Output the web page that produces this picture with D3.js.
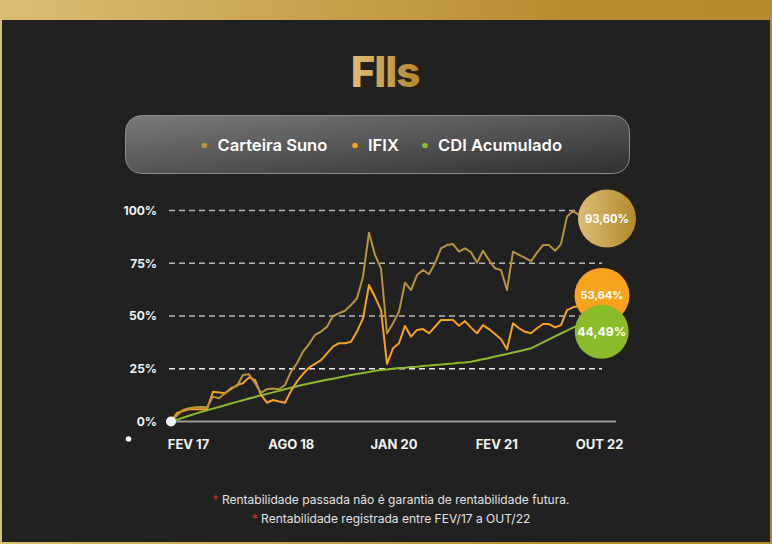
<!DOCTYPE html>
<html><head><meta charset="utf-8">
<script src="https://cdn.jsdelivr.net/npm/d3@7"></script>
<style>
html,body{margin:0;padding:0;background:#212121;}
svg{display:block;font-family:Inter,"Noto Sans",sans-serif;}
</style></head>
<body>
<svg id="c" width="772" height="544"></svg>
<script>
// ---- data ----
const xLabels = ["FEV 17", "AGO 18", "JAN 20", "FEV 21", "OUT 22"];
const yTicks = [0, 25, 50, 75, 100];
const seriesNames = ["Carteira Suno", "IFIX", "CDI Acumulado"];
const seriesColors = ["#b8933c", "#f7a21b", "#8bbb28"];
// monthly accumulated return (%), FEV/17 .. OUT/22 (69 months)
const suno = [0,2.8,5.5,6.3,6.8,6.9,6.7,11.8,11.0,13.4,15.9,16.8,22.0,22.4,18.1,13.6,15.3,15.6,15.3,17.3,
  23.6,27.6,33.1,36.7,41.0,42.6,44.9,50.0,51.3,52.5,55.2,58.4,68.6,89.5,78.9,72.6,41.8,46.5,52.0,65.8,
  62.3,69.4,71.8,69.8,75.0,82.1,83.6,84.1,80.5,82.1,80.2,75.3,80.9,76.5,72.6,71.8,62.3,80.5,79.0,77.5,
  76.0,80.0,83.6,83.6,80.9,84.1,97.1,99.8,97.9];
const ifix = [0,4.0,5.0,5.8,5.8,5.8,5.9,14.1,13.8,13.4,15.3,17.3,18.1,20.9,19.7,12.6,8.9,10.2,9.5,8.9,
  14.5,19.0,22.5,25.5,27.3,29.1,32.3,35.5,37.1,37.1,37.8,42.6,48.9,64.7,59.1,52.8,27.3,34.7,37.1,45.3,
  40.2,43.4,43.8,41.8,44.9,48.1,48.1,48.1,45.4,47.6,44.5,41.8,45.7,43.8,41.5,39.0,34.2,46.5,44.2,42.5,
  41.8,44.2,46.2,46.2,44.6,45.7,52.8,54.1,54.7];
const cdi = [0,0.9,1.8,2.7,3.6,4.5,5.3,6.1,6.9,7.7,8.5,9.3,10.1,10.9,11.6,12.4,13.1,13.8,14.6,15.3,
  16.0,16.7,17.4,18.0,18.6,19.2,19.8,20.3,20.9,21.4,22.0,22.5,23.0,23.5,24.0,24.4,24.7,25.0,25.3,25.5,
  25.8,26.0,26.3,26.5,26.8,27.0,27.3,27.5,27.8,28.0,28.3,28.9,29.5,30.1,30.8,31.4,32.0,32.7,33.3,34.0,
  34.7,36.1,37.5,38.9,40.3,41.7,43.1,44.5,45.5];
const finalLabels = ["93,60%", "53,64%", "44,49%"];
const footnotes = ["Rentabilidade passada não é garantia de rentabilidade futura.",
                   "Rentabilidade registrada entre FEV/17 a OUT/22"];

// ---- drawing ----
const svg = d3.select("#c");
const W = 772, H = 544;
const defs = svg.append("defs");
const gold = defs.append("linearGradient").attr("id","gold").attr("x1","0%").attr("x2","100%").attr("y1","0%").attr("y2","0%");
gold.append("stop").attr("offset","0%").attr("stop-color","#ddbd75");
gold.append("stop").attr("offset","100%").attr("stop-color","#b3892c");
const goldFrame = defs.append("linearGradient").attr("id","goldFrame").attr("gradientUnits","userSpaceOnUse")
  .attr("x1",0).attr("x2",W).attr("y1",0).attr("y2",0);
goldFrame.append("stop").attr("offset","0%").attr("stop-color","#dcbd74");
goldFrame.append("stop").attr("offset","75%").attr("stop-color","#b68b2d");
goldFrame.append("stop").attr("offset","100%").attr("stop-color","#b58a2c");
const leg = defs.append("linearGradient").attr("id","leg").attr("x1","0%").attr("x2","100%").attr("y1","0%").attr("y2","100%");
leg.append("stop").attr("offset","0%").attr("stop-color","#7a7a7a");
leg.append("stop").attr("offset","100%").attr("stop-color","#2f2f2f");

svg.append("rect").attr("width",W).attr("height",H).attr("fill","url(#goldFrame)");
svg.append("rect").attr("x",2).attr("y",20).attr("width",W-4).attr("height",H-22).attr("fill","#212121");

// title
svg.append("text").attr("x",385).attr("y",87).attr("text-anchor","middle")
  .attr("font-size",42).attr("font-weight",800).attr("fill","url(#gold)").attr("letter-spacing","-1")
  .text("FIIs");

// legend
svg.append("rect").attr("x",125.5).attr("y",115.5).attr("width",504).attr("height",58).attr("rx",16)
  .attr("fill","url(#leg)").attr("stroke","#8c8c8c").attr("stroke-width",1);
const legX = [204.5, 355, 425];
const lg = svg.append("g");
seriesNames.forEach((n,i)=>{
  lg.append("circle").attr("cx",legX[i]).attr("cy",145.5).attr("r",2.8).attr("fill",seriesColors[i]);
  lg.append("text").attr("x",legX[i]+13).attr("y",151.2).attr("font-size",16.6).attr("font-weight",600)
    .attr("fill","#ffffff").text(n);
});

// scales
const y = d3.scaleLinear().domain([0,100]).range([421.5,210.5]);
const x = d3.scaleLinear().domain([0, suno.length-1]).range([171, 579]);
const xl = d3.scalePoint().domain(xLabels).range([188, 599]);

// grid
const grid = svg.append("g");
yTicks.filter(t=>t>0).forEach(t=>{
  grid.append("line").attr("x1",169).attr("x2",602).attr("y1",y(t)).attr("y2",y(t))
    .attr("stroke", t===25 ? "#ececec" : "#b4b4b4").attr("stroke-width",1.5).attr("stroke-dasharray","6,4");
});
svg.append("line").attr("x1",170).attr("x2",616).attr("y1",y(0)).attr("y2",y(0))
  .attr("stroke","#9c9c9c").attr("stroke-width",2);

// y axis labels
const ya = svg.append("g").attr("transform","translate(157,0)")
  .call(d3.axisLeft(y).tickValues(yTicks).tickSize(0).tickPadding(0).tickFormat(d=>d+"%"));
ya.select(".domain").remove();
ya.selectAll("text").attr("font-family","Inter").attr("font-size",12).attr("font-weight",700).attr("fill","#f2f2f2");

// x axis labels
const xa = svg.append("g").attr("transform","translate(0,440)")
  .call(d3.axisBottom(xl).tickSize(0).tickPadding(0));
xa.select(".domain").remove();
xa.selectAll("text").attr("font-family","Inter").attr("font-size",13).attr("font-weight",700).attr("fill","#f2f2f2");

// lines
const line = d3.line().x((d,i)=>x(i)).y(d=>y(d));
[cdi, ifix, suno].forEach((s,k)=>{
  const ci = [2,1,0][k];
  svg.append("path").datum(s).attr("d",line).attr("fill","none")
    .attr("stroke",seriesColors[ci]).attr("stroke-width",2).attr("stroke-linejoin","round");
});

// start dots
svg.append("circle").attr("cx",x(0)).attr("cy",y(0)).attr("r",5).attr("fill","#eef0f5");
svg.append("circle").attr("cx",128.5).attr("cy",439).attr("r",2.8).attr("fill","#ffffff");

// end bubbles
const bubbles = [
  {cx:607, cy:218.5, r:29, fill:"url(#gold)", fs:11.2},
  {cx:602, cy:295.5, r:27.5, fill:"#f7a31d", fs:11},
  {cx:601.7, cy:331.7, r:27, fill:"#8bbb28", fs:12.2}
];
bubbles.forEach((b,i)=>{
  svg.append("circle").attr("cx",b.cx).attr("cy",b.cy).attr("r",b.r).attr("fill",b.fill);
  svg.append("text").attr("x",b.cx).attr("y",b.cy).attr("dy","0.36em").attr("text-anchor","middle")
    .attr("font-size",b.fs).attr("font-weight",700).attr("fill","#ffffff").text(finalLabels[i]);
});

// footnotes
footnotes.forEach((t,i)=>{
  const tx = svg.append("text").attr("x",391).attr("y",504+i*19).attr("text-anchor","middle")
    .attr("font-size",12).attr("fill","#e2e2e2");
  tx.append("tspan").attr("fill","#d2312c").text("* ");
  tx.append("tspan").text(t);
});
</script>
</body></html>
